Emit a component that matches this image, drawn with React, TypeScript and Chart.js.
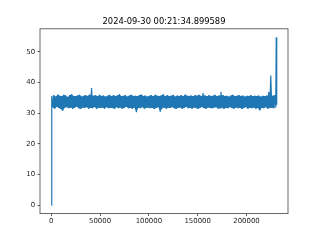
import React, { useEffect, useRef } from "react";
import { Chart, registerables } from "chart.js";

Chart.register(...registerables);

const titleText = "2024-09-30 00:21:34.899589";
const xTickValues = [0, 50000, 100000, 150000, 200000];
const yTickValues = [0, 10, 20, 30, 40, 50];

const startPoint = { x: 0, y: 0 };
const bandStartX = 500;
const bandStep = 1020;

const bandHigh = [
  35.6, 35.9, 35.4, 36.1, 35.7, 35.5, 36.0, 35.8, 35.3, 35.9,
  36.2, 35.6, 35.5, 35.8, 36.0, 35.4, 35.7, 35.9, 35.6, 36.1,
  35.8, 35.7, 35.9, 35.5, 36.0, 35.6, 35.8, 35.4, 35.7, 36.0,
  35.5, 35.9, 35.6, 35.8, 36.2, 35.5, 35.7, 35.9, 35.4, 35.8,
  36.0, 35.6, 35.7, 35.5, 35.9, 36.1, 35.6, 35.8, 35.4, 35.7,
  35.9, 35.5, 36.0, 35.7, 35.6, 35.8, 36.2, 35.5, 35.9, 35.6,
  35.7, 36.0, 35.4, 35.8, 35.6, 35.9, 35.5, 36.1, 35.7, 35.6,
  35.8, 35.5, 35.9, 35.7, 36.0, 35.6, 35.9, 35.8, 35.5, 35.9,
  35.6, 35.7, 36.0, 35.5, 35.8, 35.9, 35.9, 35.6, 35.7, 35.4,
  35.8, 36.0, 35.5, 35.7, 35.9, 35.6, 35.8, 35.4, 35.7, 35.6,
  35.9, 35.5, 35.7, 35.6, 35.8, 35.4, 35.7, 35.5, 35.8, 35.6,
  35.7, 35.7, 35.9,
];

const bandLow = [
  31.9, 31.5, 32.1, 31.7, 31.4, 30.8, 31.8, 32.0, 31.6, 31.9,
  31.5, 31.8, 32.2, 31.6, 31.4, 31.9, 31.7, 32.0, 31.5, 31.8,
  31.6, 32.1, 31.4, 31.8, 31.7, 31.9, 31.5, 32.0, 31.6, 31.8,
  31.7, 31.4, 32.0, 31.6, 31.9, 31.5, 31.8, 32.1, 31.6, 31.7,
  31.5, 31.9, 30.3, 31.8, 31.6, 32.0, 31.5, 31.7, 31.9, 31.6,
  31.8, 31.4, 31.7, 32.0, 30.5, 31.6, 31.9, 31.5, 31.8, 31.7,
  32.0, 31.6, 31.4, 31.8, 31.9, 31.5, 31.7, 32.1, 31.6, 31.8,
  31.5, 31.9, 31.7, 31.4, 31.8, 32.0, 31.6, 31.5, 31.9, 31.7,
  31.6, 31.8, 32.0, 31.5, 31.7, 31.9, 31.4, 31.8, 31.6, 32.0,
  31.7, 31.5, 31.9, 31.6, 31.8, 31.4, 31.7, 32.0, 31.5, 31.8,
  31.6, 31.9, 31.5, 31.7, 30.9, 31.8, 31.6, 32.0, 31.5, 31.7,
  31.8, 31.6, 31.9,
];

// isolated upward spikes inside the band (index into bandHigh, value)
const spikeIndex = [20, 76, 85, 109, 110];
const spikeValue = [38.2, 36.6, 37.0, 37.0, 42.3];

const endX = [230500, 231000];
const endY = [54.8, 32.8];

const LINE_COLOR = "#1f77b4";
const FONT = "'DejaVu Sans', sans-serif";

function buildLine() {
  const pts: { x: number; y: number }[] = [startPoint];
  for (let j = 0; j < bandHigh.length; j++) {
    const s = spikeIndex.indexOf(j);
    pts.push({ x: bandStartX + 2 * j * bandStep, y: s >= 0 ? spikeValue[s] : bandHigh[j] });
    pts.push({ x: bandStartX + (2 * j + 1) * bandStep, y: bandLow[j] });
  }
  for (let i = 0; i < endX.length; i++) pts.push({ x: endX[i], y: endY[i] });
  return pts;
}

function buildUpper() {
  return bandHigh.map((v, j) => ({ x: bandStartX + 2 * j * bandStep, y: v }));
}
function buildLower() {
  return bandLow.map((v, j) => ({ x: bandStartX + (2 * j + 1) * bandStep, y: v }));
}

const spinePlugin = {
  id: "spines",
  afterDraw(chart: any) {
    const { ctx, chartArea } = chart;
    ctx.save();
    ctx.strokeStyle = "#444";
    ctx.lineWidth = 0.8;
    ctx.strokeRect(
      chartArea.left,
      chartArea.top,
      chartArea.right - chartArea.left,
      chartArea.bottom - chartArea.top
    );
    ctx.restore();
  },
};

export default function App() {
  const ref = useRef<HTMLCanvasElement>(null);
  useEffect(() => {
    if (!ref.current) return;
    const pts = buildLine();
    const xs = pts.map((p) => p.x);
    const ys = pts.map((p) => p.y);
    const xMin = Math.min(...xs), xMax = Math.max(...xs);
    const yMin = Math.min(...ys), yMax = Math.max(...ys);
    const xm = (xMax - xMin) * 0.05;
    const ym = (yMax - yMin) * 0.05;
    const tickGrid = {
      display: true,
      drawOnChartArea: false,
      drawTicks: true,
      tickLength: 2.4,
      tickColor: "#333",
      tickWidth: 0.8,
    };
    const chart = new Chart(ref.current, {
      type: "line",
      data: {
        datasets: [
          {
            data: pts,
            borderColor: LINE_COLOR,
            borderWidth: 1.2,
            pointRadius: 0,
            tension: 0,
            fill: false,
            order: 0,
          },
          {
            data: buildUpper(),
            borderWidth: 0,
            borderColor: "rgba(0,0,0,0)",
            backgroundColor: LINE_COLOR,
            pointRadius: 0,
            tension: 0,
            fill: "+1",
            order: 1,
          },
          {
            data: buildLower(),
            borderWidth: 0,
            borderColor: "rgba(0,0,0,0)",
            backgroundColor: LINE_COLOR,
            pointRadius: 0,
            tension: 0,
            fill: false,
            order: 2,
          },
        ],
      },
      options: {
        animation: false,
        responsive: false,
        layout: { padding: { left: 8, right: 0, top: 0, bottom: 0 } },
        plugins: {
          legend: { display: false },
          tooltip: { enabled: false },
          filler: { propagate: false },
          title: {
            display: true,
            text: titleText,
            color: "#000",
            font: { family: FONT, size: 8.33, weight: "normal", lineHeight: 1.2 },
            padding: { top: 16.5, bottom: 2.3 },
          },
        },
        scales: {
          x: {
            type: "linear",
            min: xMin - xm,
            max: xMax + xm,
            afterBuildTicks: (s: any) => {
              s.ticks = xTickValues.map((v) => ({ value: v }));
            },
            afterFit: (s: any) => {
              s.height = 26.4;
            },
            grid: tickGrid,
            border: { display: false },
            ticks: {
              color: "#222",
              font: { family: FONT, size: 6.94 },
              padding: 1.5,
              maxRotation: 0,
              autoSkip: false,
              callback: (v: any) => String(v),
            },
          },
          y: {
            type: "linear",
            min: yMin - ym,
            max: yMax + ym,
            afterBuildTicks: (s: any) => {
              s.ticks = yTickValues.map((v) => ({ value: v }));
            },
            afterFit: (s: any) => {
              s.width = 32;
            },
            grid: tickGrid,
            border: { display: false },
            ticks: {
              color: "#222",
              font: { family: FONT, size: 6.94 },
              padding: 2.4,
              autoSkip: false,
              callback: (v: any) => String(v),
            },
          },
          yRight: {
            type: "linear",
            position: "right",
            display: true,
            min: yMin - ym,
            max: yMax + ym,
            afterFit: (s: any) => {
              s.width = 32;
            },
            grid: { display: false },
            border: { display: false },
            ticks: { display: false },
          },
        },
      },
      plugins: [spinePlugin],
    });
    return () => chart.destroy();
  }, []);
  return (
    <div style={{ position: "absolute", left: 0, top: 0, width: 320, height: 240, background: "#fff" }}>
      <canvas ref={ref} width={320} height={240} style={{ display: "block" }} />
    </div>
  );
}
